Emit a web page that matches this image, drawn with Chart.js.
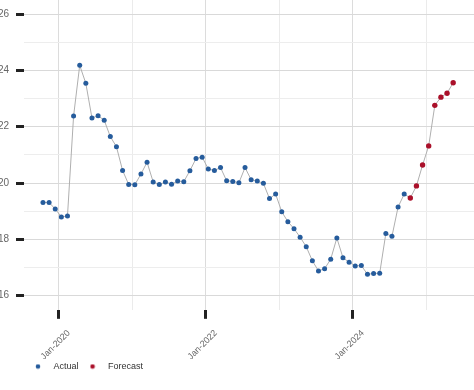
<!DOCTYPE html>
<html>
<head>
<meta charset="utf-8">
<script src="https://cdn.jsdelivr.net/npm/chart.js@4.4.1/dist/chart.umd.min.js"></script>
<style>
  html, body { margin: 0; padding: 0; background: #fff; }
  #wrap { width: 474px; height: 390px; }
</style>
</head>
<body>
<div id="wrap"><canvas id="chart"></canvas></div>
<script>
// Monatswerte, erster Monat Okt 2019
const ACTUAL_START = '2019-10';
const ACTUAL_VALUES = [
    19.31, 19.31, 19.08, 18.80, 18.83, 22.38, 24.18, 23.54, 22.31, 22.39, 22.23, 21.65,
    21.29, 20.45, 19.95, 19.94, 20.32, 20.74, 20.04, 19.95, 20.04, 19.96, 20.07, 20.05,
    20.44, 20.87, 20.92, 20.50, 20.45, 20.55, 20.08, 20.06, 20.01, 20.55, 20.12, 20.07,
    19.99, 19.45, 19.61, 18.98, 18.63, 18.38, 18.08, 17.74, 17.24, 16.88, 16.96, 17.30,
    18.05, 17.35, 17.19, 17.06, 17.07, 16.76, 16.79, 16.80, 18.21, 18.11, 19.15, 19.61
];
const FORECAST_START = '2024-10';
const FORECAST_VALUES = [19.47, 19.90, 20.64, 21.32, 22.76, 23.05, 23.19, 23.56];

const X_TICK_LABELS = { 0: 'Jan-2020', 24: 'Jan-2022', 48: 'Jan-2024' };
const Y_TICKS = [16, 17, 18, 19, 20, 21, 22, 23, 24, 25, 26];

const COLOR_ACTUAL = 'rgb(38, 92, 156)';
const COLOR_FORECAST = 'rgb(170, 16, 42)';
const FONT = 'Liberation Sans';

/**
 * Monatsindex relativ zu Jan 2020 (Punkt etwa Mitte Monat).
 */
function monthIndex(ym, offset) {
    const [y, m] = ym.split('-').map(Number);
    return (y - 2020) * 12 + (m - 1) + offset + 0.4;
}

function toPoints(start, values) {
    return values.map((v, i) => ({ x: monthIndex(start, i), y: v }));
}

/**
 * Kleiner Punkt fuer die Legende.
 */
function legendDot(color) {
    const c = document.createElement('canvas');
    c.width = 6; c.height = 6;
    const g = c.getContext('2d');
    g.fillStyle = color;
    g.beginPath();
    g.arc(3, 3, 2.3, 0, Math.PI * 2);
    g.fill();
    return c;
}

function noPadding(s) {
    s.paddingTop = 0; s.paddingBottom = 0; s.paddingLeft = 0; s.paddingRight = 0;
}

const actualPts = toPoints(ACTUAL_START, ACTUAL_VALUES);
const forecastPts = toPoints(FORECAST_START, FORECAST_VALUES);
const dots = { 'Actual': legendDot(COLOR_ACTUAL), 'Forecast': legendDot(COLOR_FORECAST) };

new Chart(document.getElementById('chart'), {
    type: 'scatter',
    data: {
        datasets: [
            {
                label: 'line',
                data: actualPts.concat(forecastPts),
                showLine: true,
                borderColor: 'rgb(175, 175, 175)',
                borderWidth: 1,
                pointRadius: 0,
                order: 3
            },
            {
                label: 'Actual',
                data: actualPts,
                backgroundColor: COLOR_ACTUAL,
                borderColor: COLOR_ACTUAL,
                pointRadius: 2.5,
                borderWidth: 0,
                order: 1
            },
            {
                label: 'Forecast',
                data: forecastPts,
                backgroundColor: COLOR_FORECAST,
                borderColor: COLOR_FORECAST,
                pointRadius: 2.7,
                borderWidth: 0,
                order: 2
            }
        ]
    },
    options: {
        responsive: true,
        maintainAspectRatio: false,
        animation: false,
        layout: { autoPadding: false, padding: { left: 0, right: 0, top: 0, bottom: 9 } },
        plugins: {
            tooltip: { enabled: false },
            legend: {
                position: 'bottom',
                align: 'start',
                fullSize: false,
                labels: {
                    usePointStyle: true,
                    pointStyleWidth: 22,
                    padding: 3,
                    color: '#333',
                    font: { family: FONT, size: 9 },
                    generateLabels: chart => Chart.defaults.plugins.legend.labels.generateLabels(chart)
                        .filter(item => item.text !== 'line')
                        .map(item => Object.assign(item, { pointStyle: dots[item.text] }))
                }
            }
        },
        scales: {
            x: {
                type: 'linear',
                min: -5.7,
                max: 67.8,
                afterBuildTicks: s => { s.ticks = [0, 12, 24, 36, 48, 60].map(v => ({ value: v })); },
                afterFit: s => { s.height -= 12; noPadding(s); },
                border: { display: false },
                grid: {
                    color: ctx => (ctx.tick && ctx.tick.value % 24 === 0) ? '#dcdcdc' : '#ebebeb',
                    tickColor: ctx => (ctx.tick && ctx.tick.value % 24 === 0 && ctx.tick.value <= 48) ? '#222' : 'rgba(0,0,0,0)',
                    tickWidth: 3,
                    tickLength: 9
                },
                ticks: {
                    autoSkip: false,
                    minRotation: 45,
                    maxRotation: 45,
                    labelOffset: 10,
                    padding: 9,
                    color: '#666',
                    font: { family: FONT, size: 9 },
                    callback: v => X_TICK_LABELS[v] || ''
                }
            },
            y: {
                min: 15.5,
                max: 26.5,
                afterBuildTicks: s => { s.ticks = Y_TICKS.map(v => ({ value: v })); },
                afterFit: s => { s.width = 24; noPadding(s); },
                border: { display: false },
                grid: {
                    color: ctx => (ctx.tick && ctx.tick.value % 2 === 0) ? '#d9d9d9' : '#ededed',
                    tickColor: ctx => (ctx.tick && ctx.tick.value % 2 === 0) ? '#222' : 'rgba(0,0,0,0)',
                    tickWidth: 3,
                    tickLength: 8
                },
                ticks: {
                    padding: 7,
                    color: '#666',
                    font: { family: FONT, size: 10 },
                    callback: v => (v % 2 === 0 ? String(v) : '')
                }
            }
        }
    }
});
</script>
</body>
</html>
